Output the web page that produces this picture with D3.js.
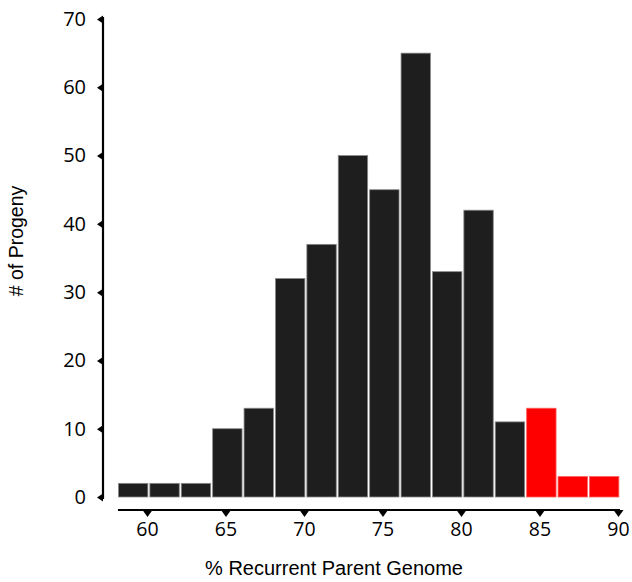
<!DOCTYPE html>
<html>
<head>
<meta charset="utf-8">
<script src="https://cdn.jsdelivr.net/npm/d3@7"></script>
<style>
  html, body { margin: 0; padding: 0; background: #fff; }
  svg { display: block; }
</style>
</head>
<body>
<svg id="chart" width="632" height="582"></svg>
<script>
// ---- data ----
const binStarts = [58.15, 60.15, 62.15, 64.15, 66.15, 68.15, 70.15, 72.15, 74.15, 76.15, 78.15, 80.15, 82.15, 84.15, 86.15, 88.15];
const counts    = [2, 2, 2, 10, 13, 32, 37, 50, 45, 65, 33, 42, 11, 13, 3, 3];
const highlight = [false, false, false, false, false, false, false, false, false, false, false, false, false, true, true, true];
const binWidth = 2;
const xTicks = [60, 65, 70, 75, 80, 85, 90];
const yTicks = [0, 10, 20, 30, 40, 50, 60, 70];
const xTitle = "% Recurrent Parent Genome";
const yTitle = "# of Progeny";

const svg = d3.select("#chart");
const x = d3.scaleLinear().domain([60, 90]).range([147, 618]);
const y = d3.scaleLinear().domain([0, 70]).range([497, 19]);

// bars
svg.append("g").selectAll("rect")
  .data(counts)
  .join("rect")
  .attr("x", (d, i) => x(binStarts[i]) + 0.5)
  .attr("width", (d, i) => x(binStarts[i] + binWidth) - x(binStarts[i]) - 2)
  .attr("y", d => y(d))
  .attr("height", d => y(0) - y(d))
  .attr("fill", (d, i) => highlight[i] ? "#ff0000" : "#1e1e1e")
  .attr("stroke", (d, i) => highlight[i] ? "#ff6060" : "#8a8a8a")
  .attr("stroke-width", 0.8);

const tickFont = "'Open Sans', 'DejaVu Sans', sans-serif";

// y axis
const yAxisX = 103;
const yAxis = d3.axisLeft(y).tickValues(yTicks).tickSize(0).tickPadding(17);
const gy = svg.append("g").attr("transform", `translate(${yAxisX},0)`).call(yAxis);
gy.select(".domain").remove();
gy.append("line").attr("x1", 0).attr("x2", 0).attr("y1", y(70) - 2).attr("y2", y(0) + 2)
  .attr("stroke", "#000").attr("stroke-width", 2.2);
gy.selectAll(".tick").append("path")
  .attr("d", "M-6,0 L0,-4 L0,4 Z").attr("fill", "#000");
gy.selectAll(".tick text")
  .attr("font-family", tickFont).attr("font-size", 20).attr("fill", "#000");

// x axis
const xAxisY = 510;
const xAxis = d3.axisBottom(x).tickValues(xTicks).tickSize(0).tickPadding(12);
const gx = svg.append("g").attr("transform", `translate(0,${xAxisY})`).call(xAxis);
gx.select(".domain").remove();
gx.append("line").attr("x1", x(binStarts[0])).attr("x2", x(90) + 2).attr("y1", 0).attr("y2", 0)
  .attr("stroke", "#000").attr("stroke-width", 2.2);
gx.selectAll(".tick").append("path")
  .attr("d", "M-5,0 L5,0 L0,7 Z").attr("fill", "#000");
gx.selectAll(".tick text")
  .attr("font-family", tickFont).attr("font-size", 19.5).attr("fill", "#000");

// titles
svg.append("text")
  .attr("x", 334).attr("y", 575)
  .attr("text-anchor", "middle")
  .attr("font-family", "'Liberation Sans', Arial, sans-serif")
  .attr("font-size", 20).attr("fill", "#000")
  .text(xTitle);

svg.append("text")
  .attr("transform", "translate(23,241) rotate(-90)")
  .attr("text-anchor", "middle")
  .attr("font-family", "'Liberation Sans', Arial, sans-serif")
  .attr("font-size", 19.5).attr("fill", "#000")
  .text(yTitle);
</script>
</body>
</html>
